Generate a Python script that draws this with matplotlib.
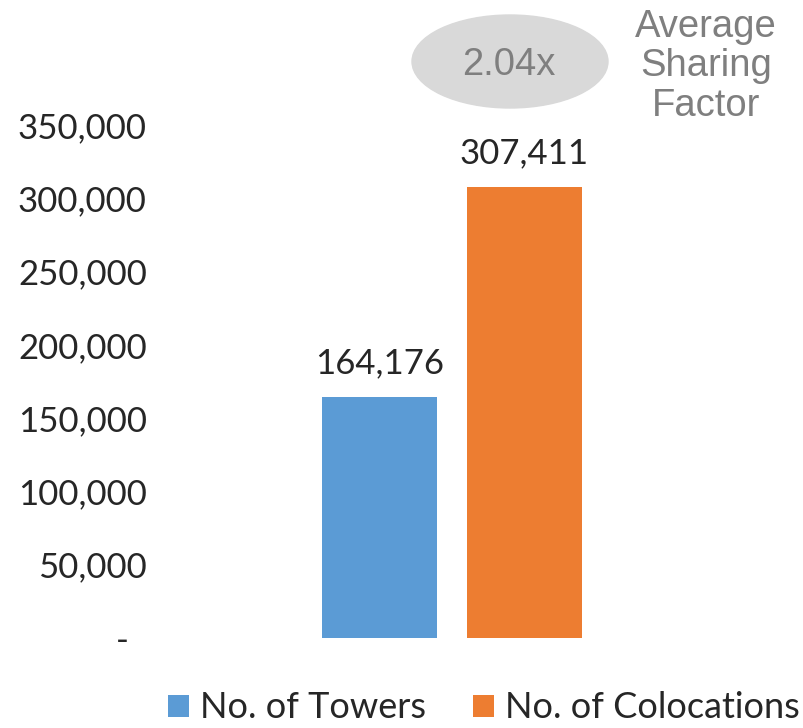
import matplotlib.pyplot as plt
from matplotlib.patches import Ellipse

# data
categories = ["No. of Towers", "No. of Colocations"]
values = [164176, 307411]
colors = ["#5b9bd5", "#ed7d31"]
yticks = [0, 50000, 100000, 150000, 200000, 250000, 300000, 350000]
sharing_factor = "2.04x"
sharing_label = "Average\nSharing\nFactor"

plt.rcParams['font.family'] = ['Lato', 'DejaVu Sans']

fig = plt.figure(figsize=(8.04, 7.28), dpi=100)
# y=0 at 638px, y=350,000 at 125px
ax = fig.add_axes([160 / 804, 90 / 728, 644 / 804, 513 / 728])

x = list(range(len(values)))
bars = ax.bar(x, values, width=0.79, color=colors, label=categories)

ax.set_ylim(0, 350000)
ax.set_xlim(-(379.5 - 160) / 145, (804 - 379.5) / 145)
ax.set_yticks(yticks)
ax.set_yticklabels(["-  " if v == 0 else f"{v:,}" for v in yticks])
ax.tick_params(axis='y', length=0, labelsize=25, labelcolor="#262626", pad=9.5)
ax.set_xticks([])
for s in ax.spines.values():
    s.set_visible(False)

for b, v in zip(bars, values):
    ax.text(b.get_x() + b.get_width() / 2, v + 16500, f"{v:,}",
            ha='center', va='baseline', fontsize=25, color="#262626")

# sharing factor bubble
ell = Ellipse((510 / 804, 1 - 61.5 / 728), 196 / 804, 93 / 728,
              transform=fig.transFigure, color="#d9d9d9", zorder=0)
fig.patches.append(ell)
fig.text(509 / 804, 1 - 75 / 728, sharing_factor, ha='center', va='baseline',
         fontsize=27.5, color="#7f7f7f", family=['Liberation Sans'])
for i, line in enumerate(sharing_label.split("\n")):
    fig.text(706 / 804, 1 - (37 + 39.5 * i) / 728, line, ha='center', va='baseline',
             fontsize=27.5, color="#7f7f7f", family=['Liberation Sans'])

fig.legend(handles=bars, labels=categories, loc='center left', ncol=2,
           bbox_to_anchor=(150 / 804, 20 / 728), frameon=False, fontsize=26,
           borderpad=0, handlelength=0.58, handleheight=0.58, handletextpad=0.3,
           columnspacing=1.3, labelcolor="#262626")

fig.savefig("out.png", dpi=100)
